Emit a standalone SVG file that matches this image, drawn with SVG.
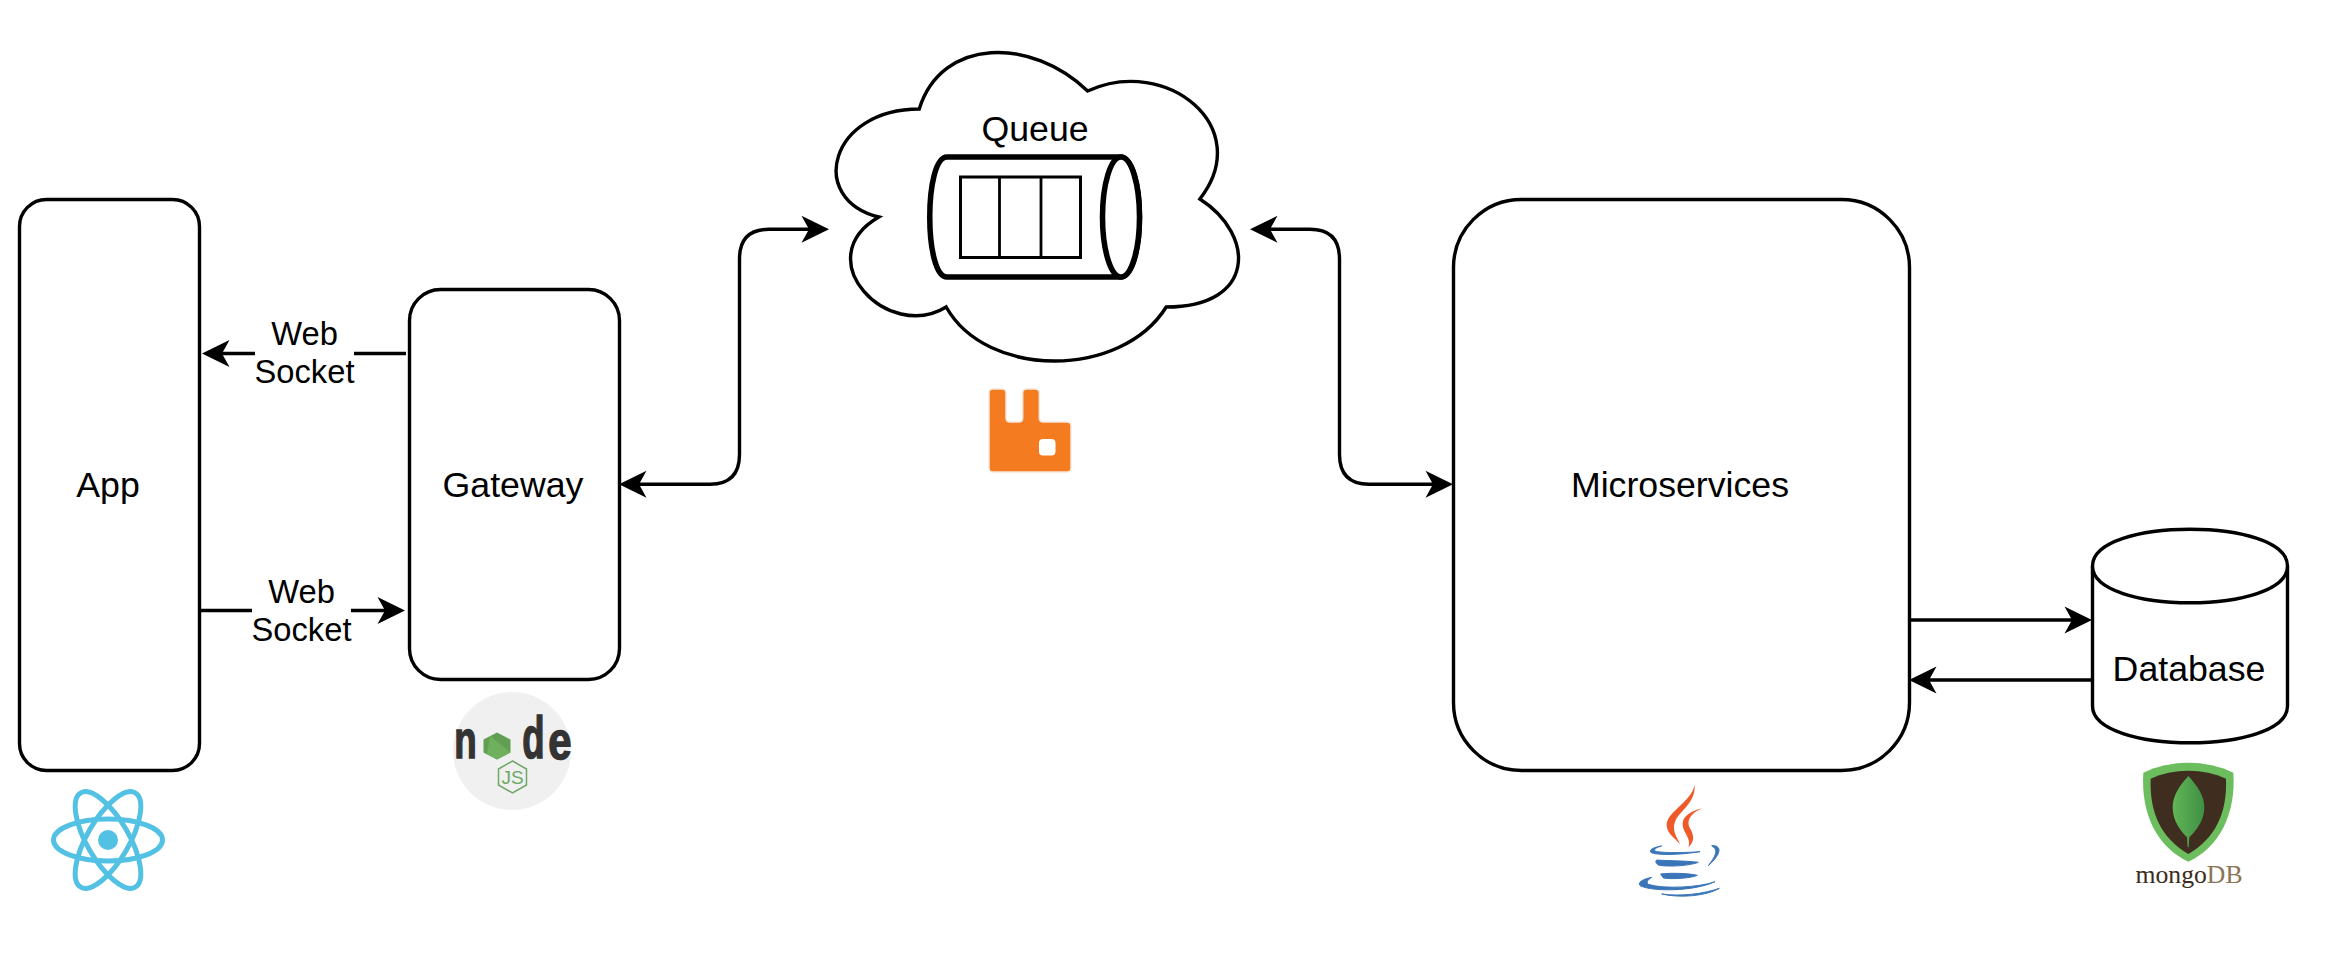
<svg xmlns="http://www.w3.org/2000/svg" width="2331" height="978" viewBox="0 0 2331 978">
<style>
.s{fill:#fff;stroke:#000;stroke-width:3.400}
.t{font-family:"Liberation Sans",Arial,sans-serif;font-size:35.700px;text-anchor:middle;fill:#000}
.w{font-family:"Liberation Sans",Arial,sans-serif;font-size:32.700px;text-anchor:middle;fill:#000}
.c{fill:none;stroke:#000;stroke-width:3.400}
.nl{font-family:"Liberation Sans",Arial,sans-serif;font-weight:700;fill:#333;stroke:#333;stroke-width:1.500;text-anchor:middle}
</style>
<defs>
<marker id="a" markerUnits="userSpaceOnUse" markerWidth="40" markerHeight="40" refX="0" refY="0" orient="auto-start-reverse" viewBox="-10 -20 40 40">
<path d="M20,0L-7.500,-13.500L0,0L-7.500,13.500Z" fill="#000"/>
</marker>
<linearGradient id="leaf" x1="0" x2="1" y1="0" y2="0"><stop offset="0" stop-color="#62b557"/><stop offset="1" stop-color="#3f9045"/></linearGradient>
</defs>
<rect width="2331" height="978" fill="#fff"/>
<g id="connectors">
<path class="c" d="M406,353.500H222" marker-end="url(#a)"/>
<path class="c" d="M199,610.500H385" marker-end="url(#a)"/>
<path class="c" d="M639,484.300H710Q739.500,484.300 739.500,454.300V259Q739.500,229.300 769,229.300H809" marker-start="url(#a)" marker-end="url(#a)"/>
<path class="c" d="M1270,229.300H1310Q1339.500,229.300 1339.500,259V454.300Q1339.500,484.300 1369,484.300H1433" marker-start="url(#a)" marker-end="url(#a)"/>
<path class="c" d="M1909,620H2072" marker-end="url(#a)"/>
<path class="c" d="M2092,680H1929" marker-end="url(#a)"/>
<rect x="255" y="318" width="99" height="74" fill="#fff"/>
<rect x="252" y="576" width="99" height="74" fill="#fff"/>
<text class="w" x="304.500" y="345">Web</text>
<text class="w" x="304.500" y="383">Socket</text>
<text class="w" x="301.500" y="603">Web</text>
<text class="w" x="301.500" y="641">Socket</text>
</g>
<g id="app">
<rect class="s" x="19.500" y="199.500" width="180" height="571" rx="27"/>
<text class="t" x="108" y="497">App</text>
</g>
<g id="gateway">
<rect class="s" x="409.500" y="289.500" width="210" height="390" rx="31"/>
<text class="t" x="513" y="497">Gateway</text>
</g>
<g id="queue">
<path class="s" d="M919.250,109C829.450,109 807,199 878.840,217C807,258.600 887.820,343 946.190,307C986.600,379 1121.300,379 1166.200,307C1256,307 1256,235 1199.880,199C1256,127 1166.200,55 1087.630,91C1031.500,37 941.700,37 919.250,109Z"/>
<text class="t" x="1035" y="141">Queue</text>
<path d="M947,157H1120C1146,157 1146,277 1120,277H947C924,277 924,157 947,157Z" fill="#fff" stroke="#000" stroke-width="5.500"/>
<ellipse cx="1121" cy="217" rx="18.500" ry="60" fill="#fff" stroke="#000" stroke-width="5.500"/>
<rect x="960.500" y="177" width="120" height="80.500" fill="none" stroke="#000" stroke-width="3"/>
<path d="M999.500,177V257.500M1041,177V257.500" stroke="#000" stroke-width="2.800" fill="none"/>
</g>
<g id="microservices">
<rect class="s" x="1453.500" y="199.500" width="456" height="571" rx="68"/>
<text class="t" x="1680" y="497">Microservices</text>
</g>
<g id="database">
<path class="s" d="M2092.500,566C2092.500,517 2287.500,517 2287.500,566V706C2287.500,755 2092.500,755 2092.500,706Z"/>
<path class="s" d="M2092.500,566C2092.500,615 2287.500,615 2287.500,566" fill="none"/>
<text class="t" x="2189" y="680.500">Database</text>
</g>
<g id="react-logo" fill="none" stroke="#53c1e3" stroke-width="5">
<ellipse cx="108" cy="840" rx="54.500" ry="21"/>
<ellipse cx="108" cy="840" rx="54.500" ry="21" transform="rotate(60 108 840)"/>
<ellipse cx="108" cy="840" rx="54.500" ry="21" transform="rotate(-60 108 840)"/>
<circle cx="108" cy="840" r="10" fill="#53c1e3" stroke="none"/>
</g>
<g id="node-logo">
<circle cx="512" cy="751" r="59" fill="#f0f0f0"/>
<text class="nl" font-size="51" transform="translate(465.500,758) scale(.72,1)">n</text>
<polygon points="497,732.500 510.500,739.500 510.500,752.500 497,759.500 483.500,752.500 483.500,739.500" fill="#629e51"/>
<polygon points="490,736 510.500,752.500 497,759.500 487,754" fill="#6fb05d"/>
<text class="nl" font-size="59" transform="translate(533.500,758) scale(.62,1)">d</text>
<text class="nl" font-size="51" transform="translate(560,759) scale(.82,1)">e</text>
<polygon points="512.500,761 526.500,769 526.500,785 512.500,793 498.500,785 498.500,769" fill="none" stroke="#6fa866" stroke-width="1.500"/>
<text x="512.500" y="784" font-family="Liberation Sans,Arial,sans-serif" font-size="19" text-anchor="middle" fill="#6fa866">JS</text>
</g>
<g id="rabbitmq-logo">
<path d="M993,389H1002Q1006,389 1006,393V418Q1006,422 1010,422H1019Q1022.700,422 1022.700,418V393Q1022.700,389 1027,389H1035Q1039.300,389 1039.300,393V418Q1039.300,422 1043,422H1067Q1071,422 1071,426V468Q1071,472 1067,472H993Q989,472 989,468V393Q989,389 993,389Z" fill="#f47b20" stroke="#f3e6da" stroke-width="1.500"/>
<rect x="1039" y="439" width="16.500" height="16.500" rx="4" fill="#fff"/>
</g>
<g id="java-logo" transform="translate(1620,770) scale(.33333)">
<g fill="#f05a28">
<path d="M224,44C215,95 140,125 140,165C140,190 165,205 180,222C170,200 155,180 165,155C175,125 228,100 224,44Z"/>
<path d="M247,115C215,122 185,140 188,165C190,190 215,205 205,232C225,215 222,195 210,175C198,155 210,130 247,115Z"/>
</g>
<g fill="#3a75b8" stroke="#3a75b8" stroke-width="3">
<path d="M125,228C95,232 80,245 100,250C130,257 200,252 240,245C200,248 125,250 105,243C100,238 110,232 125,228Z"/>
<path d="M275,227C300,225 312,245 265,287C285,260 298,240 275,227Z"/>
<path d="M110,270C130,272 200,272 235,277C200,290 130,290 115,285C108,280 105,275 110,270Z"/>
<path d="M122,312C150,308 210,310 232,316C210,326 150,328 130,324Z"/>
<path d="M95,322C65,328 50,340 62,348C100,365 220,365 285,335C240,352 130,358 85,343C78,338 82,330 95,322Z"/>
<path d="M125,372C180,380 250,372 298,355C260,378 180,385 125,372Z"/>
</g>
</g>
<g id="mongodb-logo">
<g transform="translate(2110,750) scale(.33333)">
<path d="M235,38C280,38 330,48 370,68C378,190 330,290 235,335C140,290 92,190 100,68C140,48 190,38 235,38Z" fill="#6cbd5e"/>
<path d="M235,62C275,62 315,70 348,86C352,190 315,265 235,312C155,265 118,190 122,86C155,70 195,62 235,62Z" fill="#3f2d20"/>
<path d="M235,78C265,110 283,140 283,172C283,215 255,245 238,262L236,292H233L231,262C214,245 188,215 188,172C188,140 205,110 235,78Z" fill="url(#leaf)"/>
</g>
<text x="2189" y="882.500" font-family="Liberation Serif,Times New Roman,serif" font-size="25.700" text-anchor="middle" fill="#3b2c20">mongo<tspan fill="#8b7355">DB</tspan></text>
</g>
</svg>
